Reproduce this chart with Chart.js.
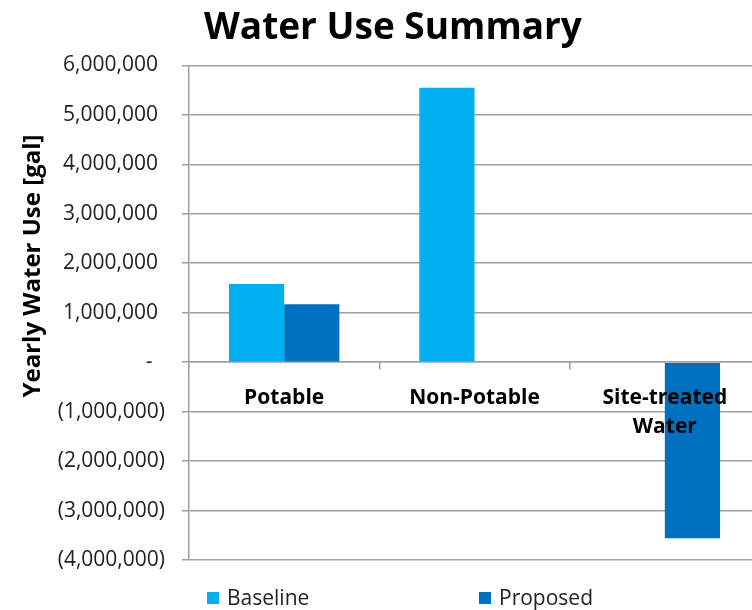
<!DOCTYPE html>
<html>
<head>
<meta charset="utf-8">
<title>Water Use Summary</title>
<script src="https://cdn.jsdelivr.net/npm/chart.js@4.4.1/dist/chart.umd.min.js"></script>
<style>
html,body{margin:0;padding:0;background:#fff;overflow:hidden}
#wrap{position:relative;width:780px;height:610px}
#legend{position:absolute;top:583px;left:0;font-family:"Open Sans",sans-serif;font-size:21px;color:#222}
#legend span.item{position:absolute;white-space:nowrap;top:0}
#legend span.box{display:inline-block;width:12px;height:12px;margin-right:8px;vertical-align:1px}
</style>
</head>
<body>
<div id="wrap">
<canvas id="grafico" width="780" height="610"></canvas>
<div id="legend"></div>
</div>
<script>
// yearly water use per category, gallons
const categorias=["Potable","Non-Potable",["Site-treated","Water"]]
const baseline=[1580000,5550000,0]
const proposed=[1170000,0,-3560000]
const legendaX=[207,479]

const fonte="'Open Sans', sans-serif"

function formatar(v){
if(v===0) return "-\u2002\u200a"
let s=Math.abs(v).toLocaleString("en-US")
return v<0 ? "("+s+")" : s+"\u2009\u2009"
}

// axis title sits a bit above the middle of the plot
const tituloEixo={
id:"tituloEixo",
afterDraw(chart){
let ctx=chart.ctx
ctx.save()
ctx.translate(33,266)
ctx.rotate(-Math.PI/2)
ctx.font="bold 24px "+fonte
ctx.fillStyle="#000"
ctx.textAlign="center"
ctx.textBaseline="middle"
ctx.fillText("Yearly Water Use [gal]",0,0)
ctx.restore()
}
}

let chart=new Chart(document.getElementById("grafico"),{
type:"bar",
data:{
labels:categorias,
datasets:[
{label:"Baseline",data:baseline,backgroundColor:"#00B0F0"},
{label:"Proposed",data:proposed,backgroundColor:"#0070C0"}
]
},
options:{
responsive:false,
animation:false,
layout:{padding:{left:26,right:20,top:0,bottom:50}},
categoryPercentage:0.58,
barPercentage:1,
plugins:{
legend:{display:false},
tooltip:{enabled:false},
title:{
display:true,
text:"Water Use Summary",
color:"#000",
font:{family:fonte,size:37,weight:"bold"},
padding:{top:6,bottom:15}
}
},
scales:{
x:{
position:{y:0},
grid:{display:true,drawOnChartArea:false,offset:true,tickLength:7,color:"#a0a0a0",lineWidth:1.5},
border:{display:true,color:"#a0a0a0",width:1.5},
ticks:{z:1,color:"#000",font:{family:fonte,size:21,weight:"bold",lineHeight:1.35},padding:15,maxRotation:0,autoSkip:false}
},
y:{
min:-4000000,
max:6000000,
afterFit(s){s.width=163},
grid:{color:"#a0a0a0",lineWidth:1.5,tickLength:7},
border:{display:true,color:"#a0a0a0",width:1.5},
ticks:{stepSize:1000000,color:"#222",padding:17,font:{family:fonte,size:21},callback:v=>formatar(v)}
}
}
},
plugins:[tituloEixo]
})

// legend built from the datasets
let leg=document.getElementById("legend")
chart.data.datasets.forEach((d,i)=>{
let it=document.createElement("span")
it.className="item"
it.style.left=legendaX[i]+"px"
it.innerHTML='<span class="box" style="background:'+d.backgroundColor+'"></span>'+d.label
leg.appendChild(it)
})
</script>
</body>
</html>
